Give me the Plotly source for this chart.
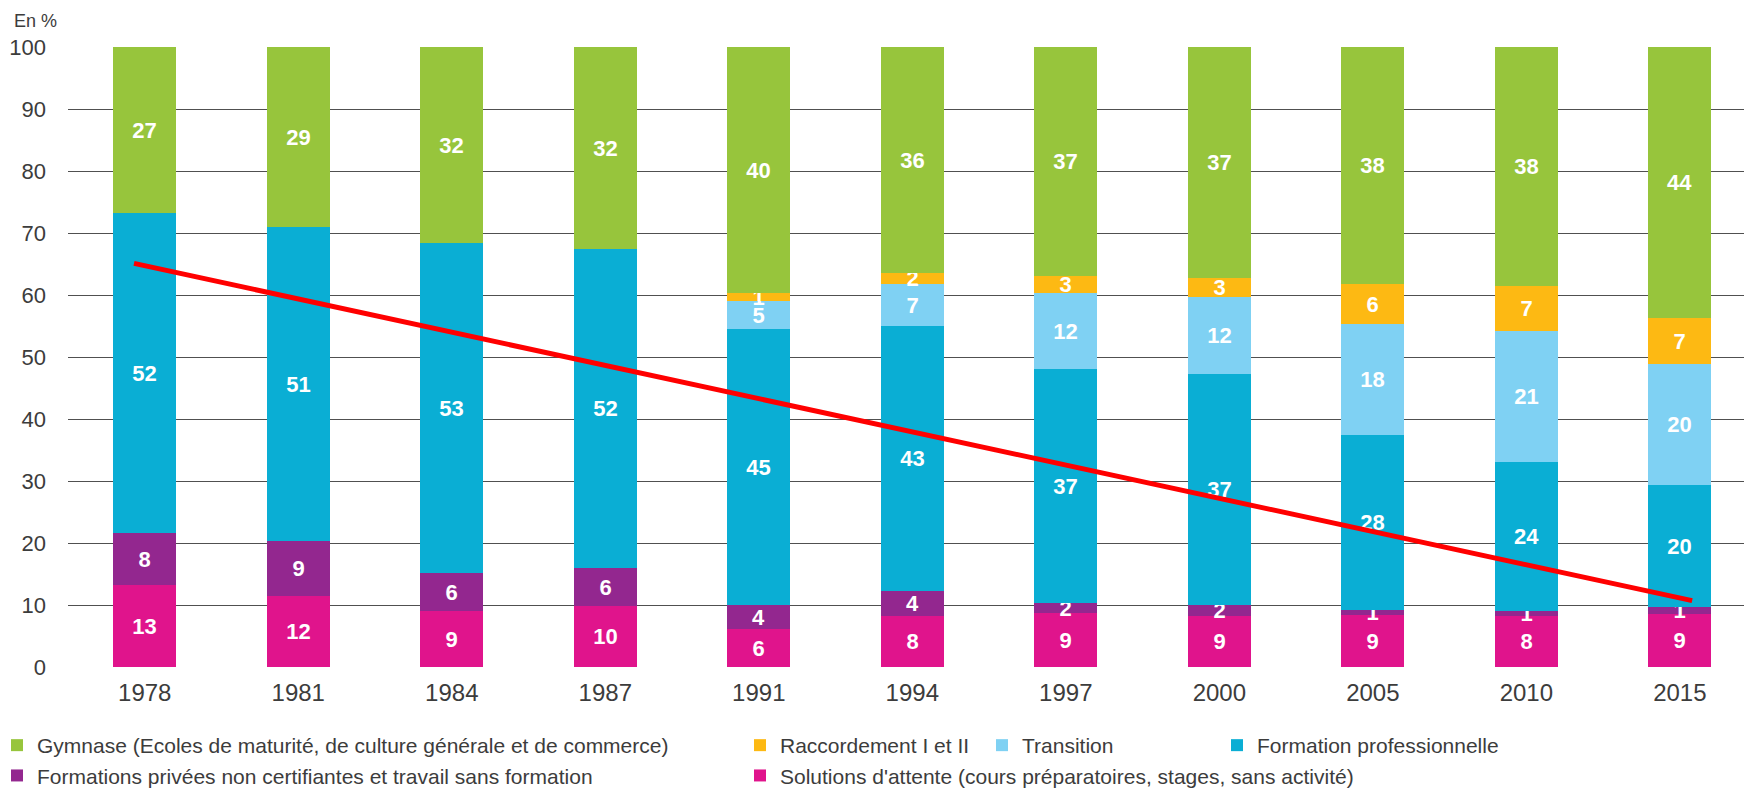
import plotly.graph_objects as go

years = ["1978", "1981", "1984", "1987", "1991", "1994", "1997", "2000", "2005", "2010", "2015"]

# Segment heights (in %), bottom to top
solutions = [13.2, 11.5, 9.0, 9.9, 6.1, 8.2, 8.7, 8.2, 8.4, 8.2, 8.6]
privees = [8.4, 8.9, 6.1, 6.0, 3.9, 4.0, 1.7, 1.8, 0.8, 0.9, 1.0]
formation_pro = [51.6, 50.6, 53.3, 51.6, 44.5, 42.8, 37.7, 37.2, 28.2, 24.0, 19.7]
transition = [0, 0, 0, 0, 4.6, 6.8, 12.3, 12.4, 17.9, 21.1, 19.6]
raccordement = [0, 0, 0, 0, 1.2, 1.8, 2.7, 3.1, 6.5, 7.2, 7.4]
gymnase = [26.8, 29.0, 31.6, 32.5, 39.7, 36.4, 36.9, 37.3, 38.2, 38.6, 43.7]

# Published (rounded) labels
solutions_lbl = ["13", "12", "9", "10", "6", "8", "9", "9", "9", "8", "9"]
privees_lbl = ["8", "9", "6", "6", "4", "4", "2", "2", "1", "1", "1"]
formation_pro_lbl = ["52", "51", "53", "52", "45", "43", "37", "37", "28", "24", "20"]
transition_lbl = ["", "", "", "", "5", "7", "12", "12", "18", "21", "20"]
raccordement_lbl = ["", "", "", "", "1", "2", "3", "3", "6", "7", "7"]
gymnase_lbl = ["27", "29", "32", "32", "40", "36", "37", "37", "38", "38", "44"]

# Red trend line (x in category index units, y in %)
trend_x = [-0.07, 10.08]
trend_y = [65.1, 10.7]

x_idx = list(range(len(years)))

FONT = "Liberation Sans, Arial, sans-serif"
TXT = "#3c3c3c"

series = [
    ("Solutions d'attente (cours préparatoires, stages, sans activité)", solutions, solutions_lbl, "#E0148C", "legend2", 2),
    ("Formations privées non certifiantes et travail sans formation", privees, privees_lbl, "#93278F", "legend", 2),
    ("Formation professionnelle", formation_pro, formation_pro_lbl, "#0AAED4", "legend4", 1),
    ("Transition", transition, transition_lbl, "#7FD1F3", "legend3", 1),
    ("Raccordement I et II", raccordement, raccordement_lbl, "#FDB913", "legend2", 1),
    ("Gymnase (Ecoles de maturité, de culture générale et de commerce)", gymnase, gymnase_lbl, "#97C53C", "legend", 1),
]

fig = go.Figure()
for name, vals, lbls, col, leg, rank in series:
    fig.add_trace(go.Bar(
        x=x_idx, y=vals, name=name, text=lbls,
        marker=dict(color=col, line=dict(width=0)),
        width=0.41,
        textposition="inside", insidetextanchor="middle", textangle=0,
        textfont=dict(family=FONT, size=22, color="white", weight="bold"),
        legend=leg, legendrank=rank,
        cliponaxis=False,
    ))

fig.add_trace(go.Scatter(
    x=trend_x, y=trend_y, mode="lines",
    line=dict(color="#FF0000", width=5),
    showlegend=False, hoverinfo="skip",
))

# plot area in page pixels: x 68..1752, y 47..667 (page body has an 8px margin)
PL, PW, PB, PH = 68.0, 1684.0, 667.0, 620.0

def px_x(px):
    return (px - PL) / PW

def px_y(py):
    return (PB - py) / PH

leg_common = dict(
    orientation="v", xref="paper", yref="paper",
    xanchor="left", yanchor="top",
    font=dict(family=FONT, size=21, color=TXT),
    bgcolor="rgba(0,0,0,0)", borderwidth=0,
    tracegroupgap=0, itemclick=False, itemdoubleclick=False,
    traceorder="normal",
)

LEG_TOP = 725

fig.update_layout(
    width=1744, height=786,
    margin=dict(l=60, r=0, t=39, b=127, autoexpand=False),
    paper_bgcolor="white", plot_bgcolor="white",
    barmode="stack",
    bargap=0,
    uniformtext=dict(minsize=22, mode="show"),
    font=dict(family=FONT, color=TXT),
    xaxis=dict(
        range=[-0.5, 10.47], tickmode="array", tickvals=x_idx, ticktext=years,
        showgrid=False, zeroline=False, showline=False, ticks="",
        tickfont=dict(family=FONT, size=24, color=TXT),
        ticklabelstandoff=9,
    ),
    yaxis=dict(
        range=[0, 100], tickmode="array", tickvals=list(range(0, 101, 10)),
        showgrid=True, gridcolor="#505050", gridwidth=1.3,
        zeroline=False, showline=False, ticks="",
        tickfont=dict(family=FONT, size=22, color=TXT),
        ticklabelstandoff=21,
    ),
    legend=dict(leg_common, x=px_x(-3), y=px_y(LEG_TOP)),
    legend2=dict(leg_common, x=px_x(740), y=px_y(LEG_TOP)),
    legend3=dict(leg_common, x=px_x(982), y=px_y(LEG_TOP)),
    legend4=dict(leg_common, x=px_x(1217), y=px_y(LEG_TOP)),
    annotations=[dict(
        text="En %", xref="paper", yref="paper", x=px_x(12), xanchor="left",
        y=px_y(21), yanchor="middle", showarrow=False,
        font=dict(family=FONT, size=18, color=TXT),
    )],
    showlegend=True,
)

fig.write_html("out.html")
